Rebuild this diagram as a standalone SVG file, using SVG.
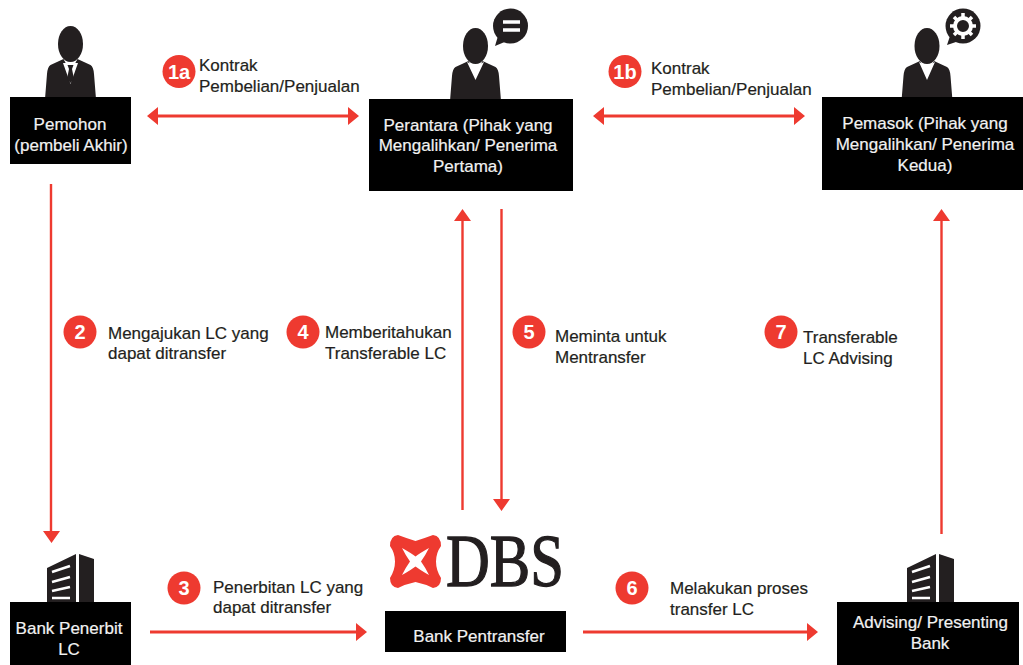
<svg xmlns="http://www.w3.org/2000/svg" width="1023" height="665" viewBox="0 0 1023 665">
<style>
text{font-family:"Liberation Sans",Arial,sans-serif;font-size:17px;fill:#231f20;stroke:#231f20;stroke-width:.2}
.w{fill:#f2f2f2;stroke:#f2f2f2;text-anchor:middle}
.n{fill:#fff;stroke:#fff;font-size:20px;font-weight:bold;text-anchor:middle;stroke-width:0}
.b{fill:#000}
.k{fill:#231f20}
.c{fill:#ee3a30}
.l{stroke:#ee3a30;fill:none}
.h{stroke-width:3.200}
.v{stroke-width:2.400}
.a{fill:#ee3a30}
.s{stroke:#fff;stroke-width:2.600;fill:none}
</style>
<defs>
<g id="man"><ellipse cx="0" cy="0" rx="12.500" ry="18"/><path d="M-7 15L-20 21Q-23 23-23.500 30L-25.500 55H25.500L23.500 30Q23 23 20 21L7 15L0 28Z"/></g>
<g id="tower"><path class="k" d="M-29 24V-10L0-24V24ZM3-24L18-19V24H3Z"/><path class="s" d="M-24-6L-6-12M-24 4L-6-1M-24 13L-6 9M-24 20L-6 20"/></g>
</defs>
<g id="connectors">
<path class="l h" d="M156 116H350M602 116H797M150 632H356M583 632H807"/>
<path class="l v" d="M51 184V532M462.500 510V220M501.500 209V500M941.500 534V220"/>
<path class="a" d="M147 116L158 107V125ZM359 116L348 107V125ZM593 116L604 107V125ZM805 116L794 107V125ZM51.500 543L43 531H60ZM462.500 209L454 221H471ZM501.500 511L493 499H510ZM941.500 209L933 221H950ZM367 632L356 623V641ZM818 632L807 623V641Z"/>
</g>
<g id="node-pemohon">
<use href="#man" x="70.500" y="44" class="k"/>
<path d="M63 63L70.500 84L78 63Z" fill="#fff"/><path d="M67.500 65H73.500L72 69L74 79L70.500 83L67 79L69 69Z" class="k"/>
<rect class="b" x="10" y="97" width="121" height="67"/>
<text class="w" x="70" y="130">Pemohon</text><text class="w" x="71" y="151">(pembeli Akhir)</text>
</g>
<g id="node-perantara">
<use href="#man" x="475.500" y="46" class="k"/>
<path d="M467 62L475.500 80L484 62L475.500 66Z" fill="#fff"/>
<circle class="k" cx="510.500" cy="26" r="17.500"/><path class="k" d="M498 36L495 46L507 41Z"/>
<path d="M503 22H520M503 30H520" stroke="#fff" stroke-width="3.500"/>
<rect class="b" x="369" y="99" width="204" height="92"/>
<text class="w" x="468" y="131">Perantara (Pihak yang</text><text class="w" x="468" y="151">Mengalihkan/ Penerima</text><text class="w" x="468" y="172">Pertama)</text>
</g>
<g id="node-pemasok">
<use href="#man" x="927" y="46" class="k"/>
<path d="M919 62L927 80L935 62L927 66Z" fill="#fff"/>
<circle class="k" cx="963" cy="26" r="17.500"/><path class="k" d="M950 36L947 45L959 41Z"/>
<circle cx="963" cy="26" r="8" fill="none" stroke="#fff" stroke-width="4"/>
<path d="M963 13V17M963 35V39M950 26H954M972 26H976M954 17L957 20M969 32L972 35M972 17L969 20M957 32L954 35" stroke="#fff" stroke-width="3.500"/>
<rect class="b" x="822" y="97" width="201" height="93"/>
<text class="w" x="925" y="129">Pemasok (Pihak yang</text><text class="w" x="925" y="150">Mengalihkan/ Penerima</text><text class="w" x="925" y="171">Kedua)</text>
</g>
<g id="node-bank-penerbit">
<use href="#tower" x="76" y="578"/>
<rect class="b" x="10" y="602" width="121" height="63"/>
<text class="w" x="69" y="634">Bank Penerbit</text><text class="w" x="69" y="655">LC</text>
</g>
<g id="node-bank-pentransfer">
<path d="M398 535Q406 538 415.500 541Q425 538 433 535Q441 536 441 546Q436 553 436 561.500Q436 570 441 578Q441 587 433 588Q425 584 415.500 582Q406 584 398 588Q390 587 390 578Q395 570 395 561.500Q395 553 390 546Q390 536 398 535Z" fill="#ee3a30"/>
<path d="M402 548Q411 553 415.500 556.500Q420 553 429 548Q425 556 421 561.500Q425 567 429 575Q420 570 415.500 566.500Q411 570 402 575Q406 567 410 561.500Q406 556 402 548Z" fill="#fff"/>
<text x="446" y="586" style="font-family:'Liberation Serif',serif;font-size:73px;stroke-width:1.300" textLength="118" lengthAdjust="spacingAndGlyphs">DBS</text>
<rect class="b" x="385" y="611" width="181" height="41"/>
<text class="w" x="479" y="642">Bank Pentransfer</text>
</g>
<g id="node-advising">
<use href="#tower" x="936" y="578"/>
<rect class="b" x="837" y="602" width="182" height="63"/>
<text class="w" x="930.500" y="628">Advising/ Presenting</text><text class="w" x="930" y="649">Bank</text>
</g>
<g id="labels">
<circle class="c" cx="179" cy="71.500" r="16.500"/><text class="n" x="179" y="78.500">1a</text>
<text x="199" y="71">Kontrak</text><text x="199" y="92">Pembelian/Penjualan</text>
<circle class="c" cx="625" cy="71.500" r="16.500"/><text class="n" x="625" y="78.500">1b</text>
<text x="651" y="74">Kontrak</text><text x="651" y="95">Pembelian/Penjualan</text>
<circle class="c" cx="80" cy="332" r="16.500"/><text class="n" x="80" y="339">2</text>
<text x="108" y="339">Mengajukan LC yang</text><text x="108" y="359">dapat ditransfer</text>
<circle class="c" cx="303" cy="332" r="16.500"/><text class="n" x="303" y="339">4</text>
<text x="325" y="338">Memberitahukan</text><text x="325" y="359">Transferable LC</text>
<circle class="c" cx="529" cy="332" r="16.500"/><text class="n" x="529" y="339">5</text>
<text x="555" y="342">Meminta untuk</text><text x="555" y="363">Mentransfer</text>
<circle class="c" cx="781" cy="332" r="16.500"/><text class="n" x="781" y="339">7</text>
<text x="803" y="343">Transferable</text><text x="803" y="364">LC Advising</text>
<circle class="c" cx="184" cy="588" r="16.500"/><text class="n" x="184" y="595">3</text>
<text x="213" y="593">Penerbitan LC yang</text><text x="213" y="613">dapat ditransfer</text>
<circle class="c" cx="632" cy="588" r="16.500"/><text class="n" x="632" y="595">6</text>
<text x="670" y="594">Melakukan proses</text><text x="670" y="615">transfer LC</text>
</g>
</svg>
